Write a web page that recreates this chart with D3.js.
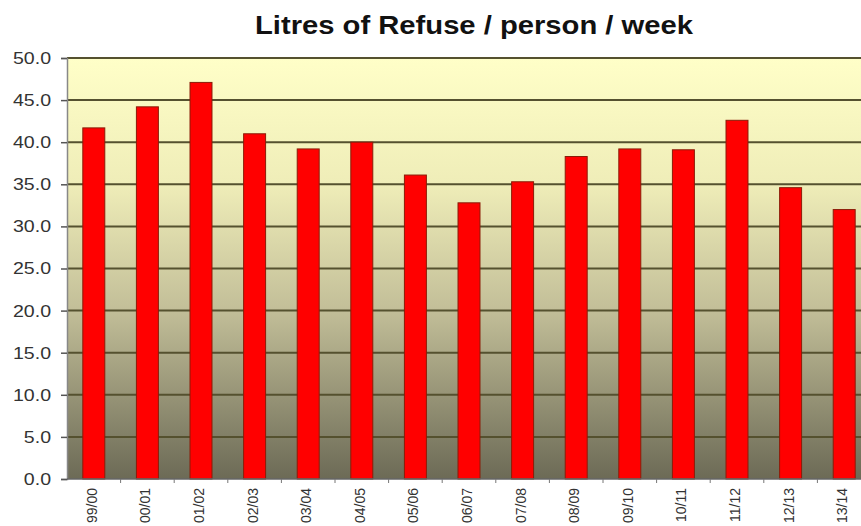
<!DOCTYPE html>
<html>
<head>
<meta charset="utf-8">
<script src="https://cdn.jsdelivr.net/npm/d3@7"></script>
<style>
html,body{margin:0;padding:0;background:#fff;}
svg{display:block;overflow:hidden;}
</style>
</head>
<body>
<svg id="chart" width="861" height="526"></svg>
<script>
const title = "Litres of Refuse / person / week";
const categories = ["99/00","00/01","01/02","02/03","03/04","04/05","05/06","06/07","07/08","08/09","09/10","10/11","11/12","12/13","13/14"];
const values = [41.7,44.2,47.1,41.0,39.2,40.0,36.1,32.8,35.3,38.3,39.2,39.1,42.6,34.6,32.0];
const yTicks = [0,5,10,15,20,25,30,35,40,45,50];

const svg = d3.select("#chart");
const W = 861, H = 526;
const margin = {left: 67, top: 58, bottom: 47};
const plotW = 804;
const plotH = H - margin.top - margin.bottom;
const font = "Liberation Sans, Arial, sans-serif";

const defs = svg.append("defs");
const grad = defs.append("linearGradient").attr("id","bg").attr("x1",0).attr("y1",0).attr("x2",0).attr("y2",1);
grad.append("stop").attr("offset","0%").attr("stop-color","#FFFFC8");
grad.append("stop").attr("offset","30%").attr("stop-color","#EFEDB8");
grad.append("stop").attr("offset","60%").attr("stop-color","#C2BE98");
grad.append("stop").attr("offset","100%").attr("stop-color","#6C6A56");

svg.append("text")
  .attr("x", 255).attr("y", 34)
  .attr("font-family",font)
  .attr("font-weight","bold")
  .attr("font-size", 25)
  .attr("fill","#111")
  .attr("textLength", 438)
  .attr("lengthAdjust","spacingAndGlyphs")
  .text(title);

const g = svg.append("g").attr("transform",`translate(${margin.left},${margin.top})`);

const x = d3.scaleBand().domain(categories).range([0, plotW]).paddingInner(0.59).paddingOuter(0.295);
const y = d3.scaleLinear().domain([0, 50]).range([plotH, 0]);

g.append("rect").attr("x",0).attr("y",0).attr("width",plotW).attr("height",plotH).attr("fill","url(#bg)");

// gridlines
g.selectAll("line.grid").data(yTicks.filter(d => d > 0)).enter().append("line")
  .attr("class","grid")
  .attr("x1",0).attr("x2",plotW)
  .attr("y1",d => y(d)).attr("y2",d => y(d))
  .attr("stroke","#55512F").attr("stroke-width",2);

// bars
g.selectAll("rect.bar").data(values).enter().append("rect")
  .attr("class","bar")
  .attr("x",(d,i) => x(categories[i]))
  .attr("y",d => y(d))
  .attr("width",x.bandwidth())
  .attr("height",d => plotH - y(d))
  .attr("fill","#FF0000")
  .attr("stroke","#8A1C08").attr("stroke-width",1);

// y axis
const yAxis = g.append("g").call(d3.axisLeft(y).tickValues(yTicks).tickFormat(d3.format(".1f")).tickSizeOuter(0).tickSize(6));
yAxis.select(".domain").attr("stroke","#888").attr("stroke-width",1.5);
yAxis.selectAll(".tick line").attr("stroke","#555").attr("stroke-width",1.5);
yAxis.selectAll(".tick text")
  .attr("font-family",font)
  .attr("font-size",17).attr("fill","#333").attr("x",-16)
  .each(function(){
    const len = this.getComputedTextLength();
    d3.select(this).attr("textLength", len * 1.15).attr("lengthAdjust","spacingAndGlyphs");
  });

// x axis baseline
g.append("line").attr("x1",0).attr("x2",plotW).attr("y1",plotH).attr("y2",plotH)
  .attr("stroke","#666").attr("stroke-width",1.5);

// x tick marks between categories
const gapHalf = (x.step() - x.bandwidth()) / 2;
g.selectAll("line.xtick").data(categories.slice(1)).enter().append("line")
  .attr("class","xtick")
  .attr("x1",d => x(d) - gapHalf).attr("x2",d => x(d) - gapHalf)
  .attr("y1",plotH).attr("y2",plotH + 4)
  .attr("stroke","#777").attr("stroke-width",1);

// x labels
g.selectAll("text.xlab").data(categories).enter().append("text")
  .attr("class","xlab")
  .attr("transform",d => `translate(${x(d) + x.bandwidth()/2 + 3},${plotH + 9}) rotate(-90)`)
  .attr("text-anchor","end")
  .attr("font-family",font)
  .attr("font-size",14).attr("fill","#333")
  .text(d => d);
</script>
</body>
</html>
